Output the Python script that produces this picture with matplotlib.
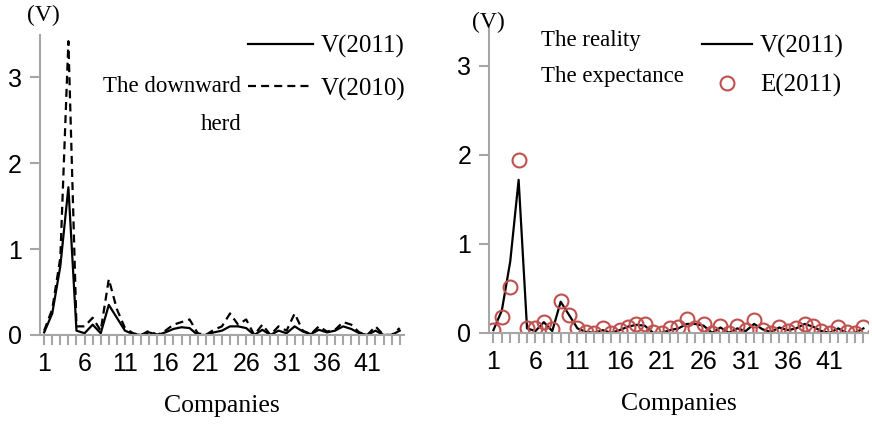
import matplotlib.pyplot as plt
import numpy as np

companies = list(range(1, 46))

v_2011 = [0.03, 0.25, 0.8, 1.72, 0.05, 0.02, 0.12, 0.02, 0.35, 0.2,
          0.05, 0.01, 0.0, 0.03, 0.0, 0.03, 0.07, 0.09, 0.08, 0.0,
          0.0, 0.03, 0.05, 0.1, 0.1, 0.08, 0.0, 0.06, 0.0, 0.05,
          0.02, 0.1, 0.04, 0.01, 0.06, 0.03, 0.05, 0.1, 0.07, 0.02,
          0.0, 0.05, 0.0, 0.0, 0.05]

v_2010 = [0.05, 0.3, 0.9, 3.42, 0.1, 0.1, 0.2, 0.05, 0.65, 0.3,
          0.08, 0.02, 0.0, 0.05, 0.0, 0.05, 0.12, 0.15, 0.18, 0.02,
          0.0, 0.06, 0.1, 0.25, 0.12, 0.18, 0.0, 0.12, 0.0, 0.1,
          0.05, 0.25, 0.05, 0.01, 0.1, 0.04, 0.06, 0.15, 0.12, 0.03,
          0.0, 0.1, 0.0, 0.0, 0.08]

e_2011 = [0.03, 0.18, 0.52, 1.94, 0.06, 0.05, 0.12, 0.04, 0.36, 0.2,
          0.05, 0.01, 0.0, 0.05, 0.0, 0.03, 0.07, 0.1, 0.1, 0.01,
          0.0, 0.05, 0.07, 0.15, 0.06, 0.1, 0.0, 0.08, 0.0, 0.08,
          0.03, 0.14, 0.03, 0.0, 0.07, 0.02, 0.06, 0.1, 0.08, 0.02,
          0.0, 0.07, 0.01, 0.0, 0.07]

tick_labels = [1, 6, 11, 16, 21, 26, 31, 36, 41]

serif = "Liberation Serif"
sans = "Liberation Sans"
axis_gray = "#a6a6a6"
red = "#c0504d"


def _style_axes(ax, ymax):
    for side in ["top", "right"]:
        ax.spines[side].set_visible(False)
    for side in ["left", "bottom"]:
        ax.spines[side].set_color(axis_gray)
        ax.spines[side].set_linewidth(1.5)
    ax.set_xlim(0.5, 45.5)
    ax.set_ylim(0, ymax)
    ax.set_xticks(companies)
    ax.set_xticklabels([str(c) if c in tick_labels else "" for c in companies])
    ax.set_yticks([0, 1, 2, 3])
    ax.tick_params(axis="both", colors=axis_gray, width=1.5, length=7,
                   labelcolor="black", labelsize=18)
    for lbl in ax.get_xticklabels() + ax.get_yticklabels():
        lbl.set_fontfamily(sans)
    ax.tick_params(axis="x", pad=5)
    ax.tick_params(axis="y", pad=6)
    ax.set_xlabel("Companies", fontfamily=serif, fontsize=18.5, labelpad=14)


fig = plt.figure(figsize=(8.72, 4.24), dpi=100)

# left panel
ax1 = fig.add_axes([0.046, 0.21, 0.417, 0.707])
ax1.plot(companies, v_2011, color="black", linewidth=1.6, label="V(2011)")
ax1.plot(companies, v_2010, color="black", linewidth=1.6, linestyle="--",
         dashes=(3.6, 2.3), label="V(2010)")
_style_axes(ax1, 3.49)
ax1.text(-0.035, 1.03, "(V)", transform=ax1.transAxes, fontfamily=serif,
         fontsize=17, ha="left", va="bottom")
leg1 = ax1.legend(loc="upper right", bbox_to_anchor=(1.066, 1.075), frameon=False,
                  prop={"family": serif, "size": 18}, handlelength=2.6,
                  handletextpad=0.3, labelspacing=0.77)
ax1.text(0.553, 0.83, "The downward", transform=ax1.transAxes, fontfamily=serif,
         fontsize=16.5, ha="right", va="center")
ax1.text(0.553, 0.703, "herd", transform=ax1.transAxes, fontfamily=serif,
         fontsize=16.5, ha="right", va="center")

# right panel
ax2 = fig.add_axes([0.561, 0.215, 0.434, 0.726])
ax2.plot(companies, v_2011, color="black", linewidth=1.6, label="V(2011)")
ax2.plot(companies, e_2011, linestyle="none", marker="o", markersize=10,
         markerfacecolor="none", markeredgecolor=red, markeredgewidth=1.5,
         label="E(2011)")
_style_axes(ax2, 3.46)
ax2.text(-0.045, 0.975, "(V)", transform=ax2.transAxes, fontfamily=serif,
         fontsize=17, ha="left", va="bottom")
leg2 = ax2.legend(loc="upper right", bbox_to_anchor=(0.996, 1.04), frameon=False,
                  prop={"family": serif, "size": 18}, handlelength=2.0,
                  handletextpad=0.3, labelspacing=0.63)
ax2.text(0.137, 0.951, "The reality", transform=ax2.transAxes, fontfamily=serif,
         fontsize=16.5, ha="left", va="center")
ax2.text(0.137, 0.834, "The expectance", transform=ax2.transAxes, fontfamily=serif,
         fontsize=16.5, ha="left", va="center")

plt.savefig("out.png", dpi=100)
plt.close()
